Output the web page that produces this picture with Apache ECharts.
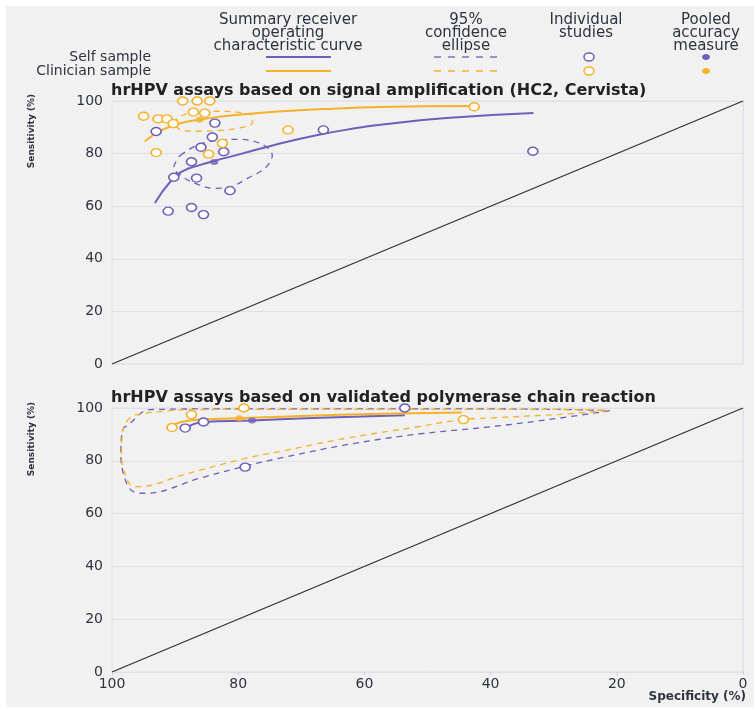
<!DOCTYPE html>
<html>
<head>
<meta charset="utf-8">
<script src="https://cdn.jsdelivr.net/npm/echarts@6/dist/echarts.min.js"></script>
<style>
  html, body { margin: 0; padding: 0; background: #ffffff; }
  #panel { position: absolute; left: 6px; top: 6px; width: 748px; height: 701px; background: #f1f1f1; }
  #chart { position: absolute; left: 0; top: 0; width: 754px; height: 714px; }
</style>
</head>
<body>
<div id="panel"></div>
<div id="chart"></div>
<script>
// ---- Data: [specificity %, sensitivity %] ----
const specTicks = [100, 80, 60, 40, 20, 0];
const panelTitles = [
  'hrHPV assays based on signal amplification (HC2, Cervista)',
  'hrHPV assays based on validated polymerase chain reaction'
];
const groupNames = ['Self sample', 'Clinician sample'];

// Reference line of no discrimination
const chanceLine = [[100, 0], [0, 100]];

// Signal amplification assays
const selfStudiesSA = [
  [93.0, 88.4], [83.7, 91.6], [84.1, 86.3], [85.9, 82.4], [82.3, 80.7],
  [87.4, 76.9], [90.2, 71.0], [86.6, 70.7], [81.3, 65.9], [91.1, 58.1],
  [87.4, 59.5], [85.5, 56.8], [66.5, 89.0], [33.3, 80.9]
];
const clinStudiesSA = [
  [95.0, 94.2], [92.7, 93.2], [91.3, 93.2], [90.3, 91.4], [88.8, 100],
  [86.5, 100], [84.5, 100], [87.1, 95.8], [85.3, 95.4], [72.1, 89.0],
  [82.5, 83.9], [84.7, 79.8], [93.0, 80.4], [42.6, 97.8]
];
const selfPooledSA = [[83.8, 76.8]];
const clinPooledSA = [[86.1, 92.9]];
const selfCurveSA = [
  [93.2, 61.2], [90.8, 69.2], [88.7, 73.4], [86.0, 75.7], [83.8, 77.2],
  [79.7, 79.8], [74.4, 83.2], [67.6, 87.0], [60.7, 89.9], [57.5, 91.0],
  [47.0, 93.5], [33.2, 95.4]
];
const clinCurveSA = [
  [94.8, 84.7], [92.7, 88.2], [90.8, 90.2], [88.7, 91.8], [86.1, 92.9],
  [80.8, 94.6], [72.9, 96.1], [64.9, 97.1], [57.5, 97.7], [42.7, 98.1]
];
const selfEllipseSA = [
  [89.2, 79.3], [86.6, 83.1], [83.4, 85.0], [79.7, 85.4], [76.2, 83.5],
  [74.6, 79.3], [75.6, 74.8], [78.6, 70.5], [81.3, 67.3], [84.0, 66.8],
  [86.4, 68.3], [88.7, 71.0], [90.2, 74.8], [89.2, 79.3]
];
const clinEllipseSA = [
  [90.3, 91.5], [89.2, 94.2], [86.8, 95.7], [83.7, 96.1], [80.0, 95.7],
  [77.7, 94.2], [77.8, 91.5], [79.7, 89.8], [82.9, 88.8], [86.8, 88.5],
  [89.2, 89.2], [90.3, 91.5]
];

// Polymerase chain reaction assays
const selfStudiesPCR = [[88.4, 92.4], [85.5, 94.7], [78.9, 77.6], [53.6, 100]];
const clinStudiesPCR = [[90.5, 92.6], [87.4, 97.5], [79.1, 100], [44.3, 95.6]];
const selfPooledPCR = [[77.8, 95.3]];
const clinPooledPCR = [[79.8, 96.1]];
const selfCurvePCR = [[88.4, 92.3], [85.5, 94.7], [77.8, 95.3], [67.0, 96.3], [53.6, 97.3]];
const clinCurvePCR = [[90.6, 93.3], [87.4, 95.4], [79.8, 96.1], [70.2, 97.0], [57.5, 97.8], [44.6, 98.3]];
const selfEllipsePCR = [
  [21.1, 99.0], [29.0, 96.2], [39.6, 93.0], [52.3, 89.9], [62.8, 86.1],
  [73.4, 81.0], [79.2, 77.8], [86.1, 73.4], [94.5, 67.7], [96.6, 68.3],
  [97.9, 72.8], [98.6, 82.3], [98.3, 91.8], [97.4, 93.7], [94.0, 99.4],
  [78.1, 99.7], [54.4, 99.7], [30.6, 99.5], [21.1, 99.0]
];
const clinEllipsePCR = [
  [21.6, 99.0], [29.0, 97.6], [39.6, 96.3], [44.6, 95.6], [52.3, 92.6],
  [62.8, 88.6], [73.4, 83.5], [78.7, 81.0], [88.7, 74.7], [95.0, 70.3],
  [96.6, 70.2], [97.9, 74.7], [98.5, 82.3], [98.3, 91.1], [97.7, 94.9],
  [96.1, 97.5], [86.1, 99.4], [70.2, 99.5], [46.4, 99.5], [25.8, 99.4],
  [21.6, 99.0]
];

// ---- Styling ----
const PURPLE = '#6f5fb8';
const ORANGE = '#f6b12a';
const FONT = '"DejaVu Sans", "Open Sans", sans-serif';
const TEXT = '#2e3340';
const GRIDLINE = '#dde1e8';

const panels = [
  { self: selfStudiesSA, clin: clinStudiesSA, selfP: selfPooledSA, clinP: clinPooledSA,
    selfC: selfCurveSA, clinC: clinCurveSA, selfE: selfEllipseSA, clinE: clinEllipseSA },
  { self: selfStudiesPCR, clin: clinStudiesPCR, selfP: selfPooledPCR, clinP: clinPooledPCR,
    selfC: selfCurvePCR, clinC: clinCurvePCR, selfE: selfEllipsePCR, clinE: clinEllipsePCR }
];

const series = [];
panels.forEach((p, i) => {
  const ax = { xAxisIndex: i, yAxisIndex: i };
  series.push({ type: 'line', ...ax, data: chanceLine, symbol: 'none', silent: true,
    lineStyle: { color: '#2f2f2f', width: 1.2 }, z: 2 });
  [[p.selfE, PURPLE], [p.clinE, ORANGE]].forEach(([d, c]) => series.push({
    type: 'line', ...ax, data: d, smooth: 0.35, symbol: 'none', silent: true,
    lineStyle: { color: c, width: 1.3, type: [6, 5] }, z: 3 }));
  [[p.selfC, PURPLE], [p.clinC, ORANGE]].forEach(([d, c]) => series.push({
    type: 'line', ...ax, data: d, smooth: true, symbol: 'none', silent: true,
    lineStyle: { color: c, width: 2 }, z: 4 }));
  [[p.self, PURPLE], [p.clin, ORANGE]].forEach(([d, c]) => series.push({
    type: 'scatter', ...ax, data: d, symbol: 'circle', symbolSize: [10, 8],
    itemStyle: { color: '#ffffff', borderColor: c, borderWidth: 1.5, opacity: 1 }, z: 5 }));
  [[p.selfP, PURPLE], [p.clinP, ORANGE]].forEach(([d, c]) => series.push({
    type: 'scatter', ...ax, data: d, symbol: 'circle', symbolSize: [8, 6],
    itemStyle: { color: c }, z: 6 }));
});

function xAxis(i, showLabels) {
  return {
    gridIndex: i, type: 'value', min: 0, max: 100, interval: 20, inverse: true,
    axisLine: { show: true, lineStyle: { color: GRIDLINE, width: 1 } },
    axisTick: { show: showLabels, length: 3, lineStyle: { color: '#c9ced8' } },
    axisLabel: { show: showLabels, fontSize: 14, color: TEXT, fontFamily: FONT, margin: 5,
      formatter: v => specTicks.includes(v) ? String(v) : '' },
    splitLine: { show: false }
  };
}
function yAxis(i) {
  return {
    gridIndex: i, type: 'value', min: 0, max: 100, interval: 20,
    axisLine: { show: true, lineStyle: { color: GRIDLINE, width: 1 } },
    axisTick: { show: false },
    axisLabel: { fontSize: 14, color: TEXT, fontFamily: FONT, margin: 9 },
    splitLine: { show: true, lineStyle: { color: GRIDLINE, width: 1 } }
  };
}

// ---- Legend table ----
const legendHead = { fill: TEXT, fontSize: 15, fontFamily: FONT, align: 'center', verticalAlign: 'top', lineHeight: 13 };
const rowY = [57, 71];
const graphic = [
  { type: 'text', x: 288, y: 14, style: { ...legendHead, text: 'Summary receiver\noperating\ncharacteristic curve' } },
  { type: 'text', x: 466, y: 14, style: { ...legendHead, text: '95%\nconfidence\nellipse' } },
  { type: 'text', x: 586, y: 14, style: { ...legendHead, text: 'Individual\nstudies' } },
  { type: 'text', x: 706, y: 14, style: { ...legendHead, text: 'Pooled\naccuracy\nmeasure' } }
];
[PURPLE, ORANGE].forEach((c, r) => {
  const y = rowY[r];
  graphic.push(
    { type: 'text', x: 151, y: y, style: { text: groupNames[r], fill: TEXT, fontSize: 14, fontFamily: FONT, align: 'right', verticalAlign: 'middle' } },
    { type: 'line', shape: { x1: 266, y1: y, x2: 331, y2: y }, style: { stroke: c, lineWidth: 2 } },
    { type: 'line', shape: { x1: 434, y1: y, x2: 500, y2: y }, style: { stroke: c, lineWidth: 1.3, lineDash: [7, 7] } },
    { type: 'ellipse', shape: { cx: 589, cy: y, rx: 5, ry: 4 }, style: { fill: '#ffffff', stroke: c, lineWidth: 1.5 } },
    { type: 'ellipse', shape: { cx: 706, cy: y, rx: 4, ry: 3 }, style: { fill: c } }
  );
});
// Axis names
graphic.push(
  { type: 'text', x: 32, y: 131, rotation: Math.PI / 2, style: { text: 'Sensitivity (%)', fill: TEXT, fontSize: 9, fontWeight: 'bold', fontFamily: FONT, align: 'center', verticalAlign: 'middle' } },
  { type: 'text', x: 32, y: 439, rotation: Math.PI / 2, style: { text: 'Sensitivity (%)', fill: TEXT, fontSize: 9, fontWeight: 'bold', fontFamily: FONT, align: 'center', verticalAlign: 'middle' } },
  { type: 'text', x: 746, y: 697, style: { text: 'Specificity (%)', fill: TEXT, fontSize: 12, fontWeight: 'bold', fontFamily: FONT, align: 'right', verticalAlign: 'middle' } }
);

const chart = echarts.init(document.getElementById('chart'), null, { renderer: 'canvas' });
chart.setOption({
  backgroundColor: 'transparent',
  animation: false,
  title: [
    { text: panelTitles[0], left: 111, top: 83, padding: 0,
      textStyle: { fontSize: 16, fontWeight: 'bold', color: '#222', fontFamily: FONT } },
    { text: panelTitles[1], left: 111, top: 390, padding: 0,
      textStyle: { fontSize: 16, fontWeight: 'bold', color: '#222', fontFamily: FONT } }
  ],
  grid: [
    { left: 112, right: 11, top: 101, height: 263, show: true, borderColor: GRIDLINE, borderWidth: 1, backgroundColor: 'transparent' },
    { left: 112, right: 11, top: 408, height: 264, show: true, borderColor: GRIDLINE, borderWidth: 1, backgroundColor: 'transparent' }
  ],
  xAxis: [xAxis(0, false), xAxis(1, true)],
  yAxis: [yAxis(0), yAxis(1)],
  graphic: graphic,
  series: series
});
</script>
</body>
</html>
